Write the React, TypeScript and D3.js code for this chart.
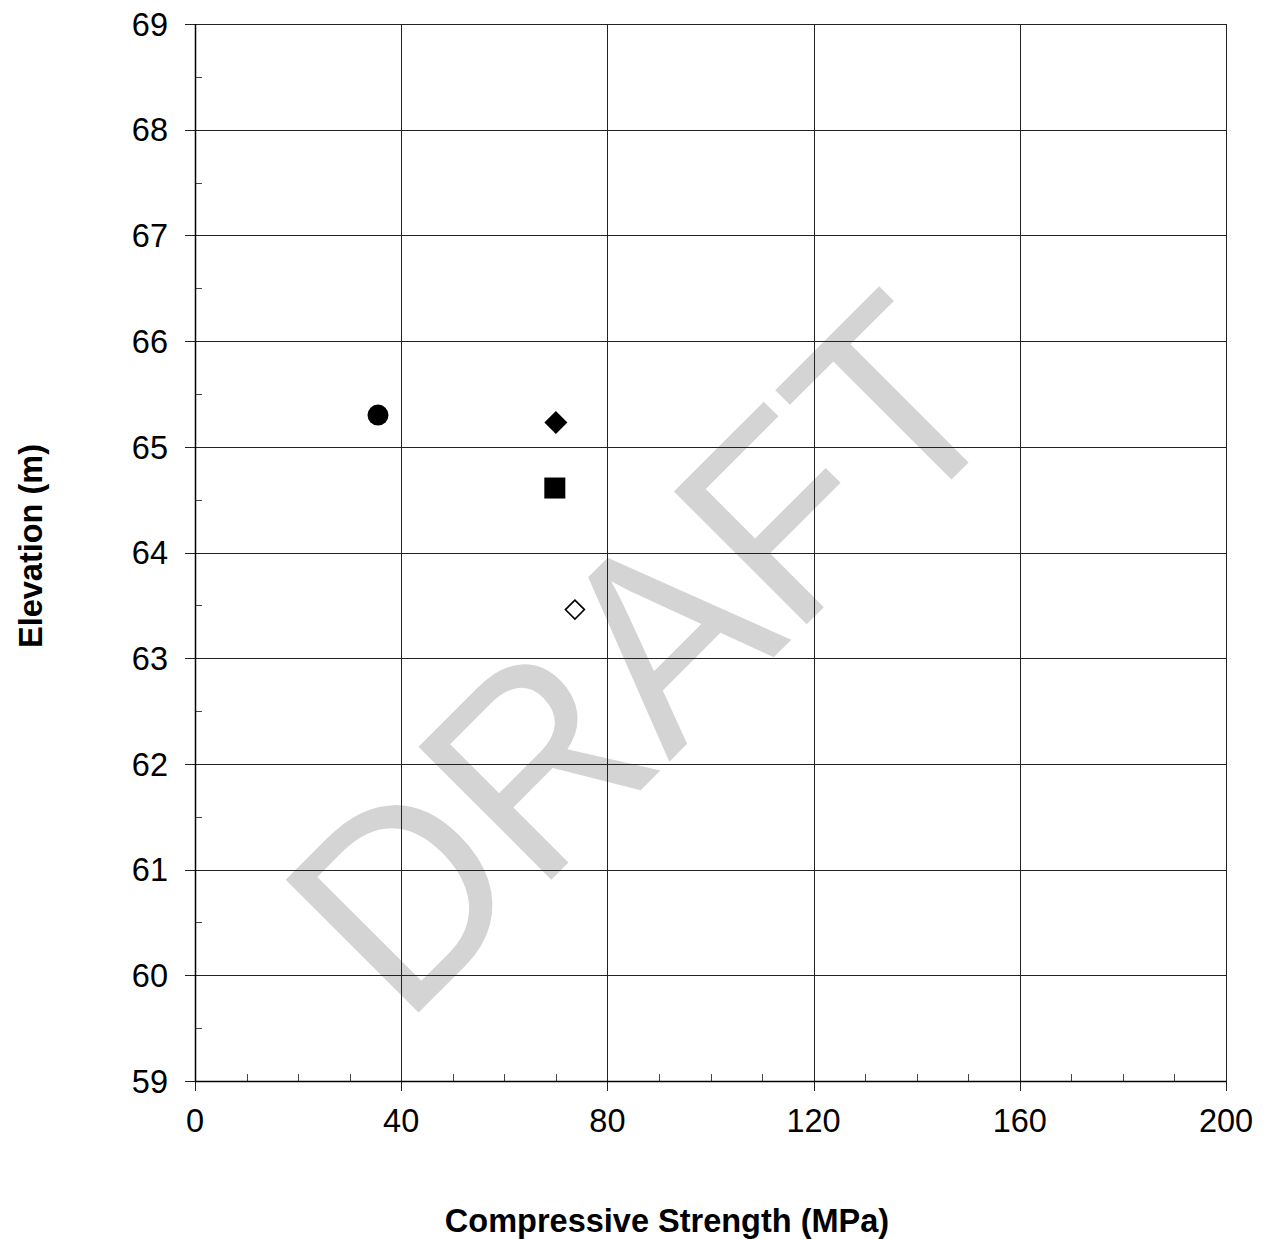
import React from "react";
import * as d3 from "d3";

const xTicks = [0, 40, 80, 120, 160, 200];
const xMinorTicks = d3.range(0, 201, 10);
const yTicks = [59, 60, 61, 62, 63, 64, 65, 66, 67, 68, 69];
const yMinorTicks = d3.range(59, 69.01, 0.5);

const circlePts = [{ x: 35.5, y: 65.3 }];
const filledDiamondPts = [{ x: 70.0, y: 65.23 }];
const squarePts = [{ x: 69.8, y: 64.61 }];
const openDiamondPts = [{ x: 73.7, y: 63.46 }];

const W = 1265;
const H = 1239;
const left = 195;
const right = 1226;
const top = 24;
const bottom = 1081;

export default function App() {
  const x = d3.scaleLinear().domain([0, 200]).range([left, right]);
  const y = d3.scaleLinear().domain([59, 69]).range([bottom, top]);
  const font = "Arial, 'Liberation Sans', Helvetica, sans-serif";
  const diamond = (cx: number, cy: number, r: number) =>
    `M${cx},${cy - r}L${cx + r},${cy}L${cx},${cy + r}L${cx - r},${cy}Z`;
  const rx = (v: number) => Math.round(x(v)) + 0.5;
  const ry = (v: number) => Math.round(y(v)) + 0.5;

  return (
    <svg
      width={W}
      height={H}
      style={{ position: "absolute", left: 0, top: 0, background: "#fff" }}
      fontFamily={font}
    >
      <rect x={0} y={0} width={W} height={H} fill="#fff" />
      {/* watermark */}
      <g transform="translate(714,714) rotate(-45) scale(1,1.05)">
        <text x={-8} y={2} textAnchor="middle" fontSize={260} fill="#d4d4d4" fontFamily={font}>
          DRAFT
        </text>
      </g>
      {/* gridlines */}
      {yTicks.map((t) => (
        <line key={"gy" + t} x1={left - 10} x2={right} y1={ry(t)} y2={ry(t)} stroke="#222" strokeWidth={1} />
      ))}
      {xTicks.map((t) => (
        <line key={"gx" + t} x1={rx(t)} x2={rx(t)} y1={top} y2={bottom + 10} stroke="#222" strokeWidth={1} />
      ))}
      {/* minor ticks */}
      {xMinorTicks.filter((t) => t % 40 !== 0).map((t) => (
        <line key={"mx" + t} x1={rx(t)} x2={rx(t)} y1={bottom - 7} y2={bottom} stroke="#444" strokeWidth={1} />
      ))}
      {yMinorTicks.filter((t) => t % 1 !== 0).map((t) => (
        <line key={"my" + t} x1={left} x2={left + 7} y1={ry(t)} y2={ry(t)} stroke="#444" strokeWidth={1} />
      ))}
      {/* axes */}
      <line x1={rx(0)} x2={rx(0)} y1={top} y2={bottom} stroke="#000" strokeWidth={1.5} />
      <line x1={left} x2={right} y1={ry(59)} y2={ry(59)} stroke="#000" strokeWidth={1.5} />
      {/* tick labels */}
      {yTicks.map((t) => (
        <text key={"ly" + t} x={168} y={y(t)} dy="0.36em" textAnchor="end" fontSize={32.5} fill="#000">
          {t}
        </text>
      ))}
      {xTicks.map((t) => (
        <text key={"lx" + t} x={x(t)} y={1132} textAnchor="middle" fontSize={32.5} fill="#000">
          {t}
        </text>
      ))}
      {/* axis titles */}
      <text x={667} y={1232} textAnchor="middle" fontSize={32.5} fontWeight="bold" fill="#000">
        Compressive Strength (MPa)
      </text>
      <text
        x={42}
        y={546}
        transform="rotate(-90 42 546)"
        textAnchor="middle"
        fontSize={32.5}
        fontWeight="bold"
        fill="#000"
      >
        Elevation (m)
      </text>
      {/* points */}
      {circlePts.map((p, i) => (
        <circle key={"c" + i} cx={x(p.x)} cy={y(p.y)} r={10.5} fill="#000" />
      ))}
      {filledDiamondPts.map((p, i) => (
        <path key={"fd" + i} d={diamond(x(p.x), y(p.y), 11.5)} fill="#000" />
      ))}
      {squarePts.map((p, i) => (
        <rect key={"s" + i} x={x(p.x) - 10.5} y={y(p.y) - 10.5} width={21} height={21} fill="#000" />
      ))}
      {openDiamondPts.map((p, i) => (
        <path key={"od" + i} d={diamond(x(p.x), y(p.y), 9.5)} fill="#fff" stroke="#000" strokeWidth={1.6} />
      ))}
    </svg>
  );
}
